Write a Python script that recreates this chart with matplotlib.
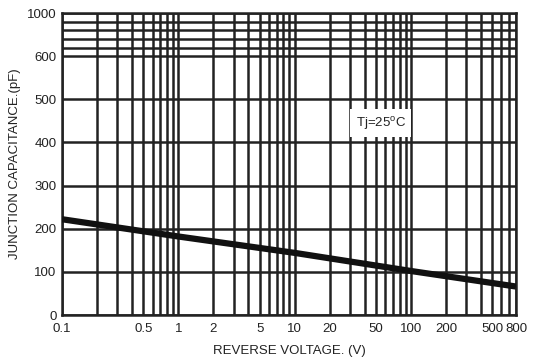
import numpy as np
import matplotlib
matplotlib.use("Agg")
import matplotlib.pyplot as plt

plt.rcParams['font.family'] = ['Liberation Sans', 'DejaVu Sans']

# curve
voltage = [0.1, 1, 10, 100, 800]
capacitance = [222, 182, 144, 102, 66]

x_ticks = [0.1, 0.5, 1, 2, 5, 10, 20, 50, 100, 200, 500, 800]
x_tick_labels = ["0.1", "0.5", "1", "2", "5", "10", "20", "50", "100", "200", "500", "800"]
y_ticks = [0, 100, 200, 300, 400, 500, 600, 1000]
y_upper_lines = [680, 760, 840, 920]


def fwd(y):
    y = np.asarray(y, dtype=float)
    return np.where(y <= 600, y, 600 + (y - 600) / 4.0)


def inv(y):
    y = np.asarray(y, dtype=float)
    return np.where(y <= 600, y, 600 + (y - 600) * 4.0)


fig = plt.figure(figsize=(5.47, 3.59), dpi=100)
ax = fig.add_axes([62 / 547, 44 / 359, 454 / 547, 302 / 359])
ax.set_xscale("log")
ax.set_yscale("function", functions=(fwd, inv))
ax.set_xlim(0.1, 800)
ax.set_ylim(0, 1000)

gc = "#222222"
# vertical grid
decades = [0.1, 1, 10, 100]
for d in decades:
    for k in range(1, 10):
        v = d * k
        if v <= 800:
            ax.axvline(v, color=gc, lw=1.8, zorder=1)
for y in y_ticks + y_upper_lines:
    ax.axhline(y, color=gc, lw=1.8, zorder=1)

ax.plot(voltage, capacitance, color="#111111", lw=4.5, solid_capstyle="butt", zorder=3)

ax.set_xticks(x_ticks)
ax.set_xticklabels(x_tick_labels)
ax.set_xticks([], minor=True)
ax.set_yticks(y_ticks)
ax.set_yticklabels([str(v) for v in y_ticks])
ax.set_yticks([], minor=True)
ax.tick_params(length=0, labelsize=9.5, colors="#222222")
ax.tick_params(axis="x", pad=6)
ax.tick_params(axis="y", pad=4)

for s in ax.spines.values():
    s.set_color(gc)
    s.set_linewidth(1.8)

ax.text(55, 445, "Tj=25$^\\mathregular{o}$C", fontsize=9.5, ha="center", va="center",
        color="#222222", zorder=4,
        bbox=dict(facecolor="white", edgecolor="none", pad=4))

ax.set_xlabel("REVERSE VOLTAGE. (V)", fontsize=9.5, color="#222222", labelpad=7)
ax.set_ylabel("JUNCTION CAPACITANCE.(pF)", fontsize=9.5, color="#222222", labelpad=4)

fig.savefig("out.png", dpi=100)
